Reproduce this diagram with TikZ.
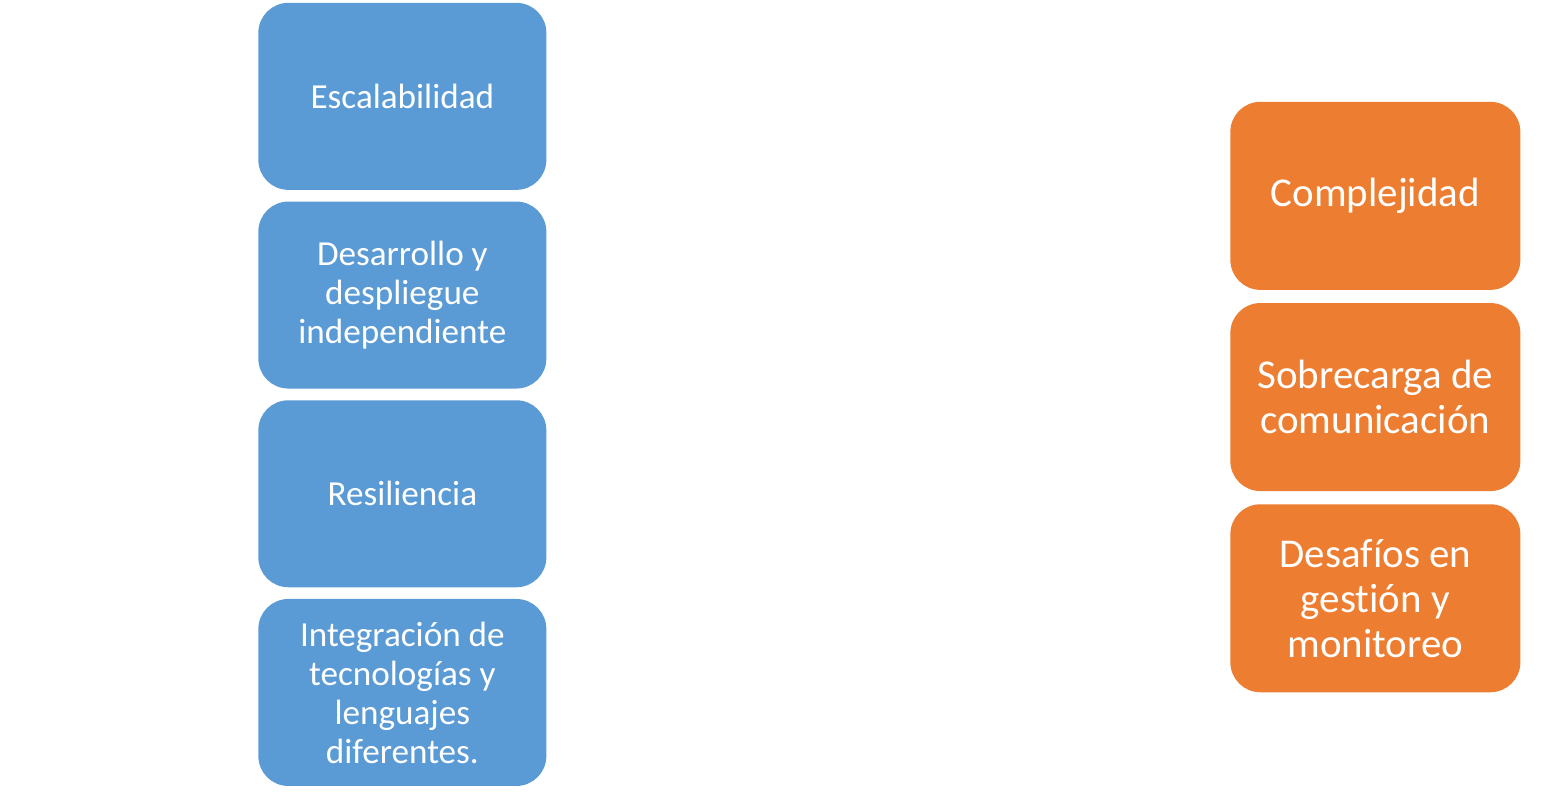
\documentclass[tikz,border=0pt]{standalone}
\usepackage{fontspec}
\setmainfont[Ligatures=NoCommon]{Carlito}
\usepackage{xcolor}
\usepackage{tikz}
\usetikzlibrary{positioning}
\definecolor{prosblue}{HTML}{5B9BD5}
\definecolor{consorange}{HTML}{ED7D31}

\begin{document}
\begin{tikzpicture}[node distance=0.22cm,
    ventaja/.style={fill=prosblue, text=white, rounded corners=0.6cm, align=center,
          minimum width=5.76cm, minimum height=3.74cm, inner sep=0pt,
          font=\fontsize{20}{22.2}\selectfont},
    desventaja/.style={fill=consorange, text=white, rounded corners=0.6cm, align=center,
          minimum width=5.8cm, minimum height=3.76cm, inner sep=0pt,
          font=\fontsize{23.3}{25.6}\selectfont}]
    \useasboundingbox (0,0) rectangle (30.82,-15.9);
    % ventajas
    \node[ventaja, anchor=north west] (esc) at (5.16,-0.05) {Escalabilidad};
    \node[ventaja, below=of esc] (des) {Desarrollo y\\ despliegue\\ independiente};
    \node[ventaja, below=of des] (res) {Resiliencia};
    \node[ventaja, below=of res] (integ)
      {Integración de\\ tecnologías y\\ lenguajes\\ diferentes.};
    % desventajas
    \node[desventaja, anchor=north west] (comp) at (24.6,-2.03) {Complejidad};
    \node[desventaja, below=0.25cm of comp] (sobre) {Sobrecarga de\\ comunicación};
    \node[desventaja, below=0.25cm of sobre] (gest) {Desafíos en\\ gestión y\\ monitoreo};
  \end{tikzpicture}
\end{document}
